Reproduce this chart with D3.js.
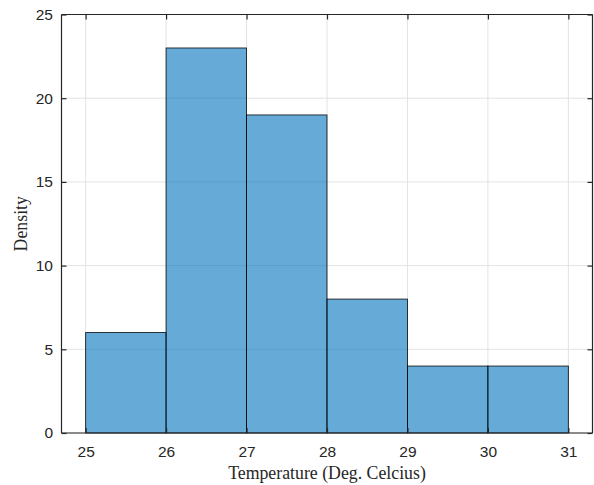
<!DOCTYPE html>
<html><head><meta charset="utf-8">
<script src="https://cdn.jsdelivr.net/npm/d3@7"></script>
<style>body{margin:0;background:#fff}</style>
</head><body>
<script>
const binEdges = [25, 26, 27, 28, 29, 30, 31];
const counts = [6, 23, 19, 8, 4, 4];
const xTicks = [25, 26, 27, 28, 29, 30, 31];
const yTicks = [0, 5, 10, 15, 20, 25];
const xLabel = "Temperature (Deg. Celcius)";
const yLabel = "Density";

const W = 594, H = 485;
const m = {left: 61.5, top: 14.5, right: 592.5, bottom: 433};
const svg = d3.select("body").append("svg").attr("width", W).attr("height", H);
const x = d3.scaleLinear().domain([24.7, 31.3]).range([m.left, m.right]);
const y = d3.scaleLinear().domain([0, 25]).range([m.bottom, m.top]);

// grid
const g = svg.append("g");
g.selectAll(".gx").data(xTicks).join("line")
  .attr("x1", d => x(d)).attr("x2", d => x(d)).attr("y1", m.top).attr("y2", m.bottom)
  .attr("stroke", "#e3e3e3").attr("stroke-width", 1);
g.selectAll(".gy").data(yTicks).join("line")
  .attr("y1", d => y(d)).attr("y2", d => y(d)).attr("x1", m.left).attr("x2", m.right)
  .attr("stroke", "#e3e3e3").attr("stroke-width", 1);

// bars
const bins = counts.map((c, i) => ({x0: binEdges[i], x1: binEdges[i + 1], v: c}));
svg.append("g").selectAll("rect").data(bins).join("rect")
  .attr("x", d => x(d.x0)).attr("width", d => x(d.x1) - x(d.x0))
  .attr("y", d => y(d.v)).attr("height", d => y(0) - y(d.v))
  .attr("fill", "#0072BD").attr("fill-opacity", 0.6)
  .attr("stroke", "#000").attr("stroke-opacity", 0.85).attr("stroke-width", 0.9);

// axes (MATLAB-style box, inward ticks)
const font = "'Liberation Sans', Arial, sans-serif";
const ax = d3.axisBottom(x).tickValues(xTicks).tickSize(-5).tickPadding(13).tickFormat(d3.format("d"));
const ay = d3.axisLeft(y).tickValues(yTicks).tickSize(-5).tickPadding(8.5).tickFormat(d3.format("d"));
const axT = d3.axisTop(x).tickValues(xTicks).tickSize(-5).tickFormat("");
const ayR = d3.axisRight(y).tickValues(yTicks).tickSize(-5).tickFormat("");

function style(sel) {
  sel.selectAll("path.domain").attr("stroke", "#262626").attr("stroke-width", 1.2);
  sel.selectAll(".tick line").attr("stroke", "#262626").attr("stroke-width", 1.2);
  sel.selectAll(".tick text").attr("fill", "#262626").style("font-family", font).style("font-size", "15.5px");
}
style(svg.append("g").attr("transform", `translate(0,${m.bottom})`).call(ax).call(s => s.select(".domain").attr("d", `M${m.left},0H${m.right}`)));
style(svg.append("g").attr("transform", `translate(${m.left},0)`).call(ay).call(s => s.select(".domain").attr("d", `M0,${m.top}V${m.bottom}`)));
style(svg.append("g").attr("transform", `translate(0,${m.top})`).call(axT).call(s => s.select(".domain").attr("d", `M${m.left},0H${m.right}`)));
style(svg.append("g").attr("transform", `translate(${m.right},0)`).call(ayR).call(s => s.select(".domain").attr("d", `M0,${m.top}V${m.bottom}`)));

svg.append("text").attr("x", (m.left + m.right) / 2).attr("y", 479)
  .attr("text-anchor", "middle").attr("fill", "#262626")
  .style("font-family", "'Liberation Serif', 'Times New Roman', serif").style("font-size", "17.8px")
  .text(xLabel);
svg.append("text").attr("transform", `translate(27,${(m.top + m.bottom) / 2}) rotate(-90)`)
  .attr("text-anchor", "middle").attr("fill", "#262626")
  .style("font-family", "'Liberation Serif', 'Times New Roman', serif").style("font-size", "17.8px")
  .text(yLabel);
</script>
</body></html>
